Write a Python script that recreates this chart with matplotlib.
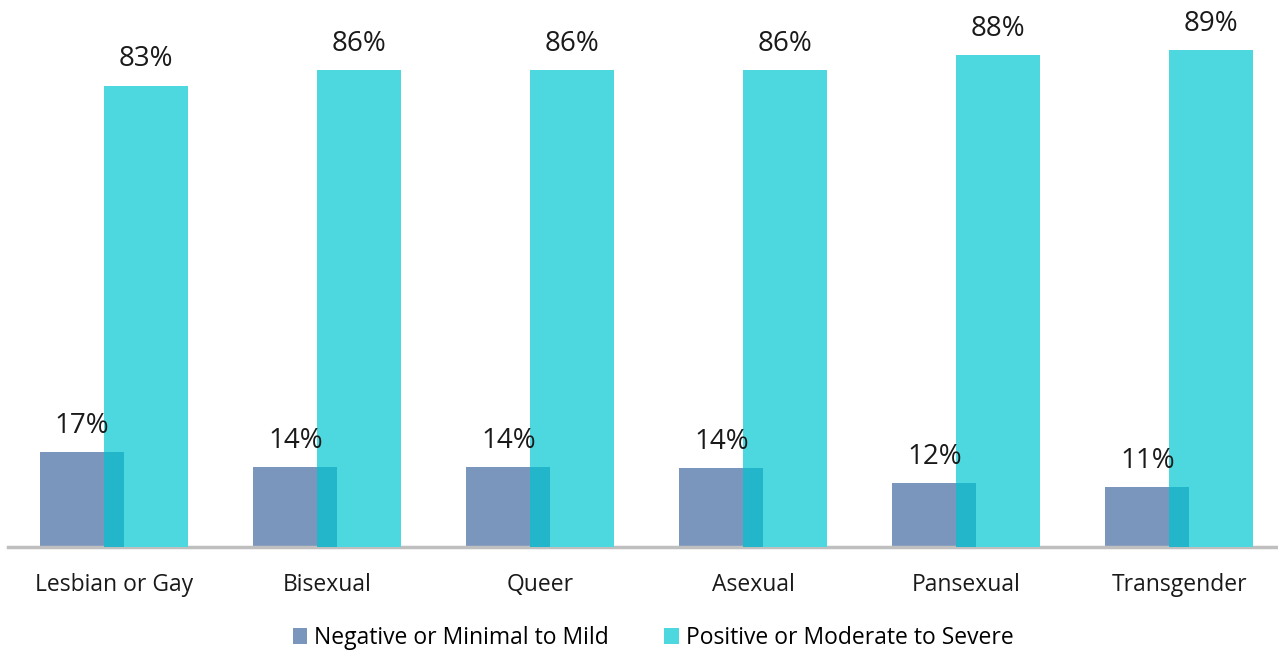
import matplotlib.pyplot as plt
import numpy as np

plt.rcParams["font.family"] = ["Open Sans", "DejaVu Sans"]

categories = ["Lesbian or Gay", "Bisexual", "Queer", "Asexual", "Pansexual", "Transgender"]
negative = [17.1, 14.4, 14.4, 14.2, 11.5, 10.8]
positive = [82.9, 85.7, 85.7, 85.7, 88.4, 89.3]
series_names = ["Negative or Minimal to Mild", "Positive or Moderate to Severe"]

blue = "#7A96BD"
cyan = "#4DD8E0"
overlap_color = "#23B5C9"

x = np.arange(len(categories))
width = 0.395
offset = 0.15

fig = plt.figure(figsize=(12.78, 6.52), dpi=100)
ax = fig.add_axes([0.006, 1 - 547 / 652, 0.994, 547 / 652])

neg_x = x - offset
pos_x = x + offset
ax.bar(neg_x, negative, width, color=blue, label=series_names[0], zorder=2)
ax.bar(pos_x, positive, width, color=cyan, label=series_names[1], zorder=3)

# darker strip where the two bars overlap
left = pos_x - width / 2
right = neg_x + width / 2
ax.bar((left + right) / 2, np.minimum(negative, positive), right - left,
       color=overlap_color, zorder=4)

for xi, v in zip(neg_x, negative):
    ax.text(xi, v + 2.2, f"{round(v)}%", ha="center", va="bottom", fontsize=20, color="#1a1a1a")
for xi, v in zip(pos_x, positive):
    ax.text(xi, v + 2.2, f"{round(v)}%", ha="center", va="bottom", fontsize=20, color="#1a1a1a")

ax.set_xlim(-0.500, 5.463)
ax.set_ylim(0, 98.3)
ax.set_yticks([])
ax.set_xticks(x)
ax.set_xticklabels(categories, fontsize=16.5, color="#1a1a1a")
ax.tick_params(axis="x", length=0, pad=19)
for side in ["top", "right", "left"]:
    ax.spines[side].set_visible(False)
ax.spines["bottom"].set_color("#BFBFBF")
ax.spines["bottom"].set_linewidth(2.5)

fig.legend(loc="center", bbox_to_anchor=(0.511, (652 - 638) / 652),
           ncol=2, frameon=False, fontsize=16.5, handlelength=0.65, handleheight=0.65,
           handletextpad=0.3, columnspacing=2.4)

fig.savefig("out.png", dpi=100)
